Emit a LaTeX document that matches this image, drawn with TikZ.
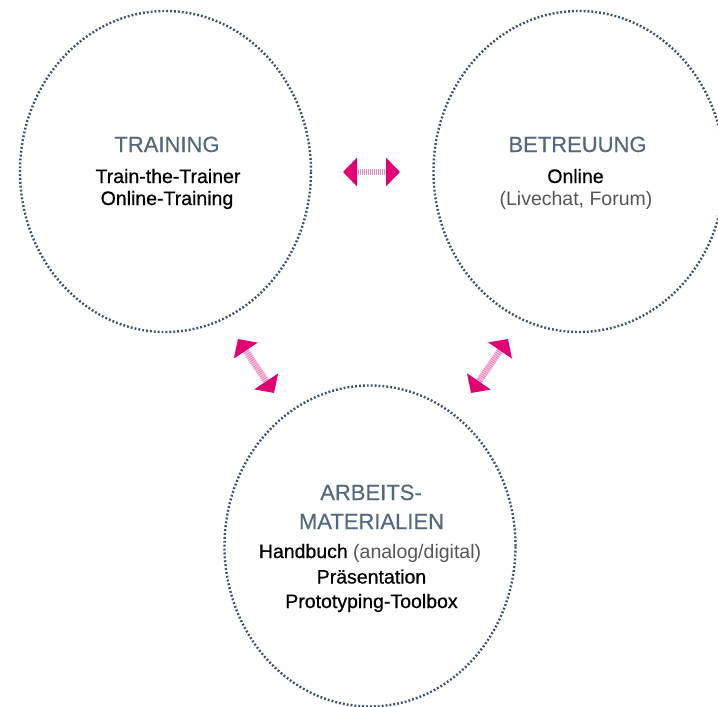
\documentclass[tikz,border=0pt]{standalone}
\usepackage{fontspec}
\setmainfont{Liberation Sans}
\newfontfamily\itemfont[FakeBold=0.7]{Liberation Sans}
\newfontfamily\headfont[FakeBold=0.3]{Liberation Sans}
\usetikzlibrary{arrows.meta,shapes.geometric}
\definecolor{slate}{HTML}{3F5268}
\definecolor{titleblue}{HTML}{53677D}
\definecolor{tmag}{HTML}{E20074}
\definecolor{softgray}{HTML}{555555}

\begin{document}
\begin{tikzpicture}[x=1pt,y=-1pt,
  ring/.style={ellipse, draw=slate, line width=2.4pt,
    dash pattern=on 1.9pt off 2.0pt, inner sep=0pt,
    minimum width=291pt, minimum height=321pt},
  title/.style={anchor=base, text=titleblue, font=\headfont\fontsize{22}{24}\selectfont},
  item/.style={anchor=base, text=black, font=\itemfont\fontsize{19.5}{22}\selectfont},
  note/.style={text=softgray, font=\rmfamily\fontsize{19.5}{22}\selectfont},
  link/.style={line width=6.5pt, draw=tmag!45, dash pattern=on 1.3pt off 0.7pt,
    {Triangle[length=14pt,width=28pt,color=tmag]}-{Triangle[length=14pt,width=28pt,color=tmag]}}]

\useasboundingbox (0,0) rectangle (718,707);

% the three areas
\node[ring] (training) at (165.5,171.5) {};
\node[ring] (betreuung) at (579,171.5) {};
\node[ring] (material) at (370,546) {};

% TRAINING
\node[title] (t0) at (167,152) {TRAINING};
\node[item]  (t1) at (168,183) {Train-the-Trainer};
\node[item]  (t2) at (167,205) {Online-Training};

% BETREUUNG
\node[title] (b0) at (577.5,152) {BETREUUNG};
\node[item]  (b1) at (575.5,183) {Online};
\node[item, note] (b2) at (576,205) {(Livechat, Forum)};

% ARBEITSMATERIALIEN
\node[title] (m0) at (371,500) {ARBEITS-};
\node[title] (m1) at (371.5,529) {MATERIALIEN};
\node[item]  (m2) at (370,558) {Handbuch {\color{softgray}\rmfamily\fontsize{19.5}{22}\selectfont(analog/digital)}};
\node[item]  (m3) at (371.5,583.5) {Präsentation};
\node[item]  (m4) at (371.5,608) {Prototyping-Toolbox};

% connector end points
\coordinate (h1) at (343,172);
\coordinate (h2) at (400,172);
\coordinate (l1) at (238,339);
\coordinate (l2) at (274,393);
\coordinate (r1) at (508,339);
\coordinate (r2) at (471,393);

\draw[link] (h1) -- (h2);
\draw[link] (l1) -- (l2);
\draw[link] (r1) -- (r2);
\end{tikzpicture}
\end{document}
